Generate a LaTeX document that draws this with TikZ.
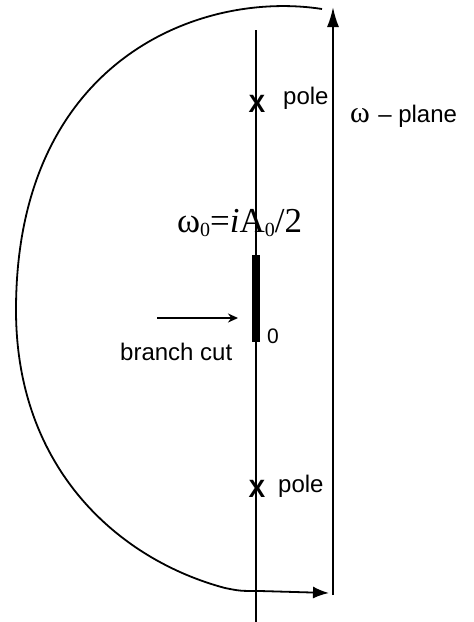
\documentclass[tikz,border=0pt]{standalone}
\usepackage{fontspec}
\setmainfont{Liberation Serif}
\setsansfont{Liberation Sans}
\usetikzlibrary{arrows.meta}
\begin{document}
\begin{tikzpicture}[x=1pt,y=-1pt,
  lbl/.style={font=\sffamily\fontsize{24}{26}\selectfont, inner sep=0pt},
  polemark/.style={font=\sffamily\bfseries\fontsize{25}{27}\selectfont, inner sep=0pt},
  ax/.style={line width=2pt}]
\useasboundingbox (0,0) rectangle (474,622);
% vertical axis
\coordinate (axtop) at (256,30);
\coordinate (axbot) at (256,622);
\draw[ax] (axtop) -- (axbot);
% right contour line
\coordinate (rbot) at (333,595);
\coordinate (rtop) at (333,7);
\draw[line width=2pt,-{Latex[length=20pt,width=12pt]}] (rbot) -- (rtop);
% big contour
\coordinate (cstart) at (322,9);
\coordinate (cleft) at (16,310);
\coordinate (cb) at (225,588);
\coordinate (cc) at (260,591);
\coordinate (cend) at (329,593);
\draw[line width=1.8pt,-{Latex[length=16pt,width=12pt]}]
  (cstart) .. controls (200,-10) and (16,60) .. (cleft)
  .. controls (16,470) and (120,560) .. (cb)
  .. controls (240,591) .. (cc) -- (cend);
% poles
\node[polemark] (p1) at (257,103.5) {X};
\node[lbl, anchor=base west] (p1l) at (283,104) {pole};
\node[polemark] (p2) at (257,488.5) {X};
\node[lbl, anchor=base west] (p2l) at (278,492) {pole};
% plane label
\node[anchor=base west, inner sep=0pt] (pl) at (350,122) {{\rmfamily\fontsize{30}{32}\selectfont ω}\,\sffamily\fontsize{24}{26}\selectfont{} – plane};
% branch cut bar
\coordinate (bctop) at (256,255);
\coordinate (bcbot) at (256,342);
\draw[line width=8pt] (bctop) -- (bcbot);
\node[lbl, anchor=base west, font=\sffamily\fontsize{21}{24}\selectfont] (zero) at (267,343) {0};
% omega_0 label
\node[inner sep=0pt, anchor=base west] (w0) at (177,232) {\rmfamily\fontsize{35}{37}\selectfont ω\raisebox{-4pt}{\fontsize{20}{21}\selectfont 0}=\textit{i}A\raisebox{-4pt}{\fontsize{20}{21}\selectfont 0}/2};
% branch cut arrow
\coordinate (bca) at (157,318);
\coordinate (bcb) at (238,318);
\draw[line width=1.6pt,-{Stealth[length=10pt,width=9pt]}] (bca) -- (bcb);
\node[lbl, anchor=base west] (bcl) at (120,360) {branch cut};
\end{tikzpicture}
\end{document}
